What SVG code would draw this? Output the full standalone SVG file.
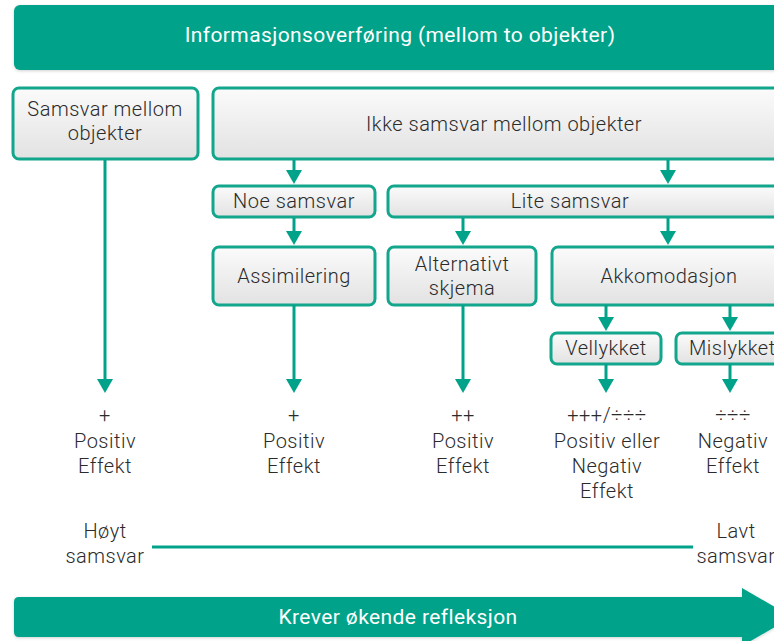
<svg xmlns="http://www.w3.org/2000/svg" width="774" height="641" viewBox="0 0 774 641">
  <defs>
    <linearGradient id="boxFill" x1="0" y1="0" x2="0" y2="1">
      <stop offset="0" stop-color="#fbfbfb"/>
      <stop offset="1" stop-color="#e2e2e2"/>
    </linearGradient>
    <filter id="shadow" x="-5%" y="-20%" width="110%" height="150%">
      <feDropShadow dx="0" dy="1" stdDeviation="1.5" flood-color="#000" flood-opacity="0.18"/>
    </filter>
    <marker id="arrow" viewBox="0 0 14 16" refX="10" refY="8" markerWidth="14" markerHeight="16" markerUnits="userSpaceOnUse" orient="auto">
      <path d="M0,0 L14,8 L0,16 Z" fill="#00a389"/>
    </marker>
    <style>
      .band { fill: #00a389; }
      .bandText { font-family: Roboto, "Liberation Sans", sans-serif; font-size: 21px; letter-spacing: 0.4px; fill: #ffffff; text-anchor: middle; }
      .box { fill: url(#boxFill); stroke: #12a68c; stroke-width: 3; }
      .label { font-family: Roboto, "Liberation Sans", sans-serif; font-size: 20px; font-weight: 300; letter-spacing: 0.5px; fill: #2b2b2b; text-anchor: middle; }
      .conn { stroke: #00a389; stroke-width: 3; fill: none; marker-end: url(#arrow); }
      .scale { stroke: #00a389; stroke-width: 3; fill: none; }
    </style>
  </defs>
  <rect width="774" height="641" fill="#ffffff"/>

  <g id="header">
    <rect class="band" x="14" y="5" width="800" height="65" rx="6" filter="url(#shadow)"/>
    <text class="bandText" x="400" y="42">Informasjonsoverføring (mellom to objekter)</text>
  </g>

  <g id="samsvar">
    <rect class="box" x="13" y="88" width="185" height="71" rx="6"/>
    <text class="label" x="105" y="116">Samsvar mellom</text>
    <text class="label" x="105" y="140">objekter</text>
  </g>

  <g id="ikke-samsvar">
    <rect class="box" x="213" y="88" width="600" height="71" rx="6"/>
    <text class="label" x="504" y="131">Ikke samsvar mellom objekter</text>
  </g>

  <g id="noe-samsvar">
    <rect class="box" x="213" y="186" width="162" height="31" rx="6"/>
    <text class="label" x="294" y="208">Noe samsvar</text>
  </g>

  <g id="lite-samsvar">
    <rect class="box" x="388" y="186" width="425" height="31" rx="6"/>
    <text class="label" x="570" y="208">Lite samsvar</text>
  </g>

  <g id="assimilering">
    <rect class="box" x="213" y="247" width="162" height="58" rx="6"/>
    <text class="label" x="294" y="283">Assimilering</text>
  </g>

  <g id="alternativt-skjema">
    <rect class="box" x="388" y="247" width="148" height="58" rx="6"/>
    <text class="label" x="462" y="271">Alternativt</text>
    <text class="label" x="462" y="295">skjema</text>
  </g>

  <g id="akkomodasjon">
    <rect class="box" x="552" y="247" width="260" height="58" rx="6"/>
    <text class="label" x="669" y="283">Akkomodasjon</text>
  </g>

  <g id="vellykket">
    <rect class="box" x="551" y="333" width="110" height="31" rx="6"/>
    <text class="label" x="606" y="355">Vellykket</text>
  </g>

  <g id="mislykket">
    <rect class="box" x="676" y="333" width="130" height="31" rx="6"/>
    <text class="label" x="689" y="355" style="text-anchor:start">Mislykket</text>
  </g>

  <g id="connectors">
    <line class="conn" x1="105" y1="160" x2="105" y2="389"/>
    <line class="conn" x1="294" y1="160" x2="294" y2="180"/>
    <line class="conn" x1="668" y1="160" x2="668" y2="180"/>
    <line class="conn" x1="294" y1="218" x2="294" y2="241"/>
    <line class="conn" x1="463" y1="218" x2="463" y2="241"/>
    <line class="conn" x1="668" y1="218" x2="668" y2="241"/>
    <line class="conn" x1="294" y1="305" x2="294" y2="389"/>
    <line class="conn" x1="463" y1="305" x2="463" y2="389"/>
    <line class="conn" x1="606" y1="305" x2="606" y2="327"/>
    <line class="conn" x1="730" y1="305" x2="730" y2="327"/>
    <line class="conn" x1="606" y1="364" x2="606" y2="389"/>
    <line class="conn" x1="730" y1="364" x2="730" y2="389"/>
  </g>

  <g id="effect-1">
    <text class="label" x="105" y="422">+</text>
    <text class="label" x="105" y="448">Positiv</text>
    <text class="label" x="105" y="473">Effekt</text>
  </g>
  <g id="effect-2">
    <text class="label" x="294" y="422">+</text>
    <text class="label" x="294" y="448">Positiv</text>
    <text class="label" x="294" y="473">Effekt</text>
  </g>
  <g id="effect-3">
    <text class="label" x="463" y="422">++</text>
    <text class="label" x="463" y="448">Positiv</text>
    <text class="label" x="463" y="473">Effekt</text>
  </g>
  <g id="effect-4">
    <text class="label" x="607" y="422">+++/÷÷÷</text>
    <text class="label" x="607" y="448">Positiv eller</text>
    <text class="label" x="607" y="473">Negativ</text>
    <text class="label" x="607" y="498">Effekt</text>
  </g>
  <g id="effect-5">
    <text class="label" x="733" y="422">÷÷÷</text>
    <text class="label" x="733" y="448">Negativ</text>
    <text class="label" x="733" y="473">Effekt</text>
  </g>

  <g id="scale">
    <text class="label" x="105" y="538">Høyt</text>
    <text class="label" x="105" y="563">samsvar</text>
    <line class="scale" x1="152" y1="547" x2="693" y2="547"/>
    <text class="label" x="736" y="538">Lavt</text>
    <text class="label" x="736" y="563">samsvar</text>
  </g>

  <g id="reflection-arrow">
    <path class="band" d="M19,597 L742,597 L742,588 L792,617 L742,646 L742,637 L19,637 Q14,637 14,632 L14,602 Q14,597 19,597 Z" filter="url(#shadow)"/>
    <text class="bandText" x="398" y="624">Krever økende refleksjon</text>
  </g>
</svg>
